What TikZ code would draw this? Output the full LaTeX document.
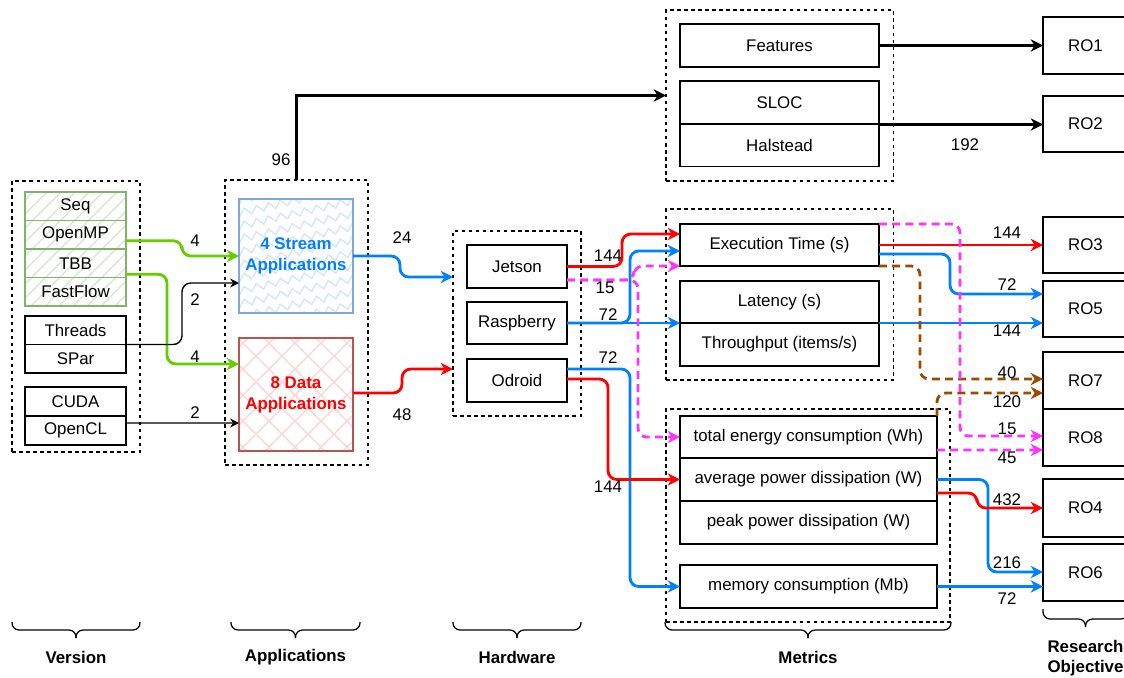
\documentclass[tikz,border=0pt]{standalone}
\usepackage{fontspec}
\setmainfont{Liberation Sans}
\usetikzlibrary{arrows.meta,calc,decorations.pathmorphing}

\definecolor{cblue}{HTML}{007FFF}
\definecolor{cred}{HTML}{FF0000}
\definecolor{cgreen}{HTML}{66CC00}
\definecolor{cmag}{HTML}{FF33FF}
\definecolor{cbrown}{HTML}{994C00}
\definecolor{gstroke}{HTML}{82B366}
\definecolor{ghatch}{HTML}{D5E8D4}
\definecolor{bstroke}{HTML}{7EA6E0}
\definecolor{bhatch}{HTML}{D6E5F8}
\definecolor{rstroke}{HTML}{B85450}
\definecolor{rhatch}{HTML}{F8D7D7}

\tikzset{
  sz/.style 2 args={minimum width=#1*0.02cm, minimum height=#2*0.02cm},
  box/.style={draw, line width=0.8pt, inner sep=0pt, outer sep=0pt},
  grp/.style={draw, dash pattern=on 2pt off 2pt, line width=0.6pt, inner sep=0pt, outer sep=0pt},
  bold/.style={font=\bfseries\fontsize{9.6}{12}\selectfont, align=center},
  lbl/.style={inner sep=1pt},
  cat/.style={font=\bfseries\fontsize{9.6}{11.3}\selectfont, align=center},
  wire/.style={line width=1.6pt, rounded corners=5pt, -{Stealth[length=7pt,width=7pt,inset=2.2pt]}},
  thinwire/.style={line width=0.8pt, rounded corners=5pt, -{Stealth[length=5pt,width=5pt,inset=1.6pt]}},
  dsh/.style={dash pattern=on 4.5pt off 3pt},
  brc/.style={line width=0.7pt, rounded corners=4pt},
}

\begin{document}
\begin{tikzpicture}[x=0.02cm,y=-0.02cm, every node/.style={font=\fontsize{9.6}{11.5}\selectfont}]
\useasboundingbox (0,0) rectangle (1124,677);

% group frames
\node[grp, sz={128}{271}] (verc) at (76,316.5) {};
\node[grp, sz={143}{285}] (appc) at (296.5,322.5) {};
\node[grp, sz={128}{185}] (hwc) at (517,323.5) {};
\node[grp, sz={227.5}{171}] (codec) at (779.75,95.5) {};
\node[grp, sz={227.5}{171}] (perfc) at (779.75,294.5) {};
\node[grp, sz={284}{213}] (enc) at (808,515.5) {};

% fill textures
\begin{scope}
  \clip (25,192) rectangle (126,306);
  \foreach \k in {0,...,16}
    \draw[ghatch, line width=0.8pt] (-95+\k*14,306) -- ++(120,-120);
\end{scope}
\begin{scope}
  \clip (239,199) rectangle (353,313);
  \foreach \k in {-3,...,10}
    \draw[bhatch, line width=0.8pt, decorate, decoration={zigzag,segment length=7pt,amplitude=2pt}]
      (230,215+\k*13) -- (365,185+\k*13);
\end{scope}
\begin{scope}
  \clip (239,338) rectangle (353,451);
  \foreach \k in {0,...,10} {
    \draw[rhatch, line width=0.8pt] (100+\k*26,460) -- ++(130,-130);
    \draw[rhatch, line width=0.8pt] (100+\k*26,330) -- ++(130,130);
  }
\end{scope}

% versions
\node[box, draw=gstroke, sz={101}{28.5}] (seq) at (75.5,206.25) {Seq};
\node[box, draw=gstroke, sz={101}{28.5}] (omp) at (75.5,234.75) {OpenMP};
\node[box, draw=gstroke, sz={101}{28.5}] (tbb) at (75.5,263.25) {TBB};
\node[box, draw=gstroke, sz={101}{28.5}] (ff) at (75.5,291.75) {FastFlow};
\node[box, sz={101}{28.5}] (threads) at (75.5,330.25) {Threads};
\node[box, sz={101}{28.5}] (spar) at (75.5,358.75) {SPar};
\node[box, sz={101}{29}] (cuda) at (75.5,401.5) {CUDA};
\node[box, sz={101}{29}] (opencl) at (75.5,430.5) {OpenCL};

% applications
\node[box, draw=bstroke, sz={114}{114}, bold, text=cblue] (stream) at (296,256) {4 Stream\\Applications};
\node[box, draw=rstroke, sz={114}{113}, bold, text=cred] (data) at (296,394.5) {8 Data\\Applications};

% hardware
\node[box, sz={100}{43}] (jetson) at (517,266.5) {Jetson};
\node[box, sz={100}{42}] (rasp) at (517,323) {Raspberry};
\node[box, sz={100}{43}] (odroid) at (517,380.5) {Odroid};

% metrics
\node[box, sz={199}{43}] (features) at (779.5,45.5) {Features};
\node[box, sz={199}{43}] (sloc) at (779.5,102.5) {SLOC};
\node[box, sz={199}{42.5}] (halstead) at (779.5,145.25) {Halstead};
\node[box, sz={199}{42}] (exec) at (779.5,245) {Execution Time (s)};
\node[box, sz={199}{42}] (lat) at (779.5,302) {Latency (s)};
\node[box, sz={199}{43}] (thr) at (779.5,344.5) {Throughput (items/s)};
\node[box, sz={257}{42}] (energy) at (808.5,437) {total energy consumption (Wh)};
\node[box, sz={257}{43}] (avgp) at (808.5,479.5) {average power dissipation (W)};
\node[box, sz={257}{43}] (peakp) at (808.5,522.5) {peak power dissipation (W)};
\node[box, sz={257}{43}] (mem) at (808.5,586.5) {memory consumption (Mb)};

% research objectives
\node[box, sz={85}{57}] (ro1) at (1085.5,45.5) {RO1};
\node[box, sz={85}{56}] (ro2) at (1085.5,124) {RO2};
\node[box, sz={85}{56}] (ro3) at (1085.5,245) {RO3};
\node[box, sz={85}{56}] (ro5) at (1085.5,309) {RO5};
\node[box, sz={85}{57}] (ro7) at (1085.5,380.5) {RO7};
\node[box, sz={85}{57}] (ro8) at (1085.5,437.5) {RO8};
\node[box, sz={85}{58}] (ro4) at (1085.5,508) {RO4};
\node[box, sz={85}{57}] (ro6) at (1085.5,572.5) {RO6};

% versions -> applications
\draw[wire, cgreen] ($(omp.east)+(0,6)$) -- ++(56,0) |- (stream.west);
\node[lbl] (n1) at (195,241) {4};
\draw[wire, cgreen] ($(tbb.east)+(0,11)$) -- ++(41,0) |- ($(data.west)+(0,-30.5)$);
\node[lbl] (n2) at (195,357) {4};
\draw[thinwire] (spar.north east) -- ++(56,0) |- ($(stream.west)+(0,27)$);
\node[lbl] (n3) at (195,300) {2};
\draw[thinwire] ($(opencl.east)+(0,-7.5)$) -- ($(data.west)+(0,28.5)$);
\node[lbl] (n4) at (195,413) {2};

% applications -> hardware / code metrics
\draw[wire, cblue] (stream.east) -- ++(47,0) |- ($(hwc.west)+(0,-46.5)$);
\node[lbl] (n5) at (402,238) {24};
\draw[wire, cred] ($(data.east)+(0,-1.5)$) -- ++(49,0) |- ($(hwc.west)+(0,45.5)$);
\node[lbl] (n6) at (402,415) {48};
\draw[wire, sharp corners] (appc.north) |- (codec.west);
\node[lbl] (n7) at (281,160) {96};
\draw[wire] (features.east) -- (ro1.west);
\draw[wire] ($(sloc.south east)+(0,0.5)$) -- ($(ro2.west)+(0,0.5)$);
\node[lbl] (n8) at (965,145) {192};

% hardware -> metrics
\draw[wire, cred] (jetson.east) -- ++(55,0) |- ($(exec.west)+(0,-11)$);
\node[lbl] (n9) at (608,256) {144};
\draw[wire, cblue] (rasp.east) -- (lat.south west);
\draw[wire, cblue] (rasp.east) -- ++(63,0) |- ($(exec.west)+(0,6)$);
\node[lbl] (n10) at (608,315) {72};
\draw[wire, cmag, dsh] ($(jetson.east)+(0,13.5)$) -- ++(67,0) |- (exec.south west);
\draw[wire, cmag, dsh] ($(jetson.east)+(0,13.5)$) -- ++(71,0) |- (energy.west);
\node[lbl] (n11) at (605,288) {15};
\draw[wire, cblue] ($(odroid.east)+(0,-11.5)$) -- ++(63,0) |- (mem.west);
\node[lbl] (n12) at (608,358) {72};
\draw[wire, cred] ($(odroid.east)+(0,-1.5)$) -- ++(41,0) |- (avgp.west);
\node[lbl] (n13) at (608,487) {144};

% metrics -> research objectives
\draw[wire, cred] (exec.east) -- (ro3.west);
\node[lbl] (n14) at (1007,233) {144};
\draw[wire, cblue] ($(exec.east)+(0,9)$) -- ++(71,0) |- ($(ro5.west)+(0,-15)$);
\node[lbl] (n15) at (1007,285) {72};
\draw[wire, cblue] (lat.south east) -- (lat.south east -| ro5.west);
\node[lbl] (n16) at (1007,331) {144};
\draw[wire, cbrown, dsh] (exec.south east) -- ++(41,0) |- ($(ro7.west)+(0,-1.5)$);
\node[lbl] (n17) at (1007,373) {40};
\draw[wire, cbrown, dsh] (energy.north east) |- ($(ro7.west)+(0,12.5)$);
\node[lbl] (n18) at (1007,402) {120};
\draw[wire, cmag, dsh] (exec.north east) -- ++(81,0) |- ($(ro8.west)+(0,-1.5)$);
\node[lbl] (n19) at (1007,429) {15};
\draw[wire, cmag, dsh] ($(energy.east)+(0,13)$) -- ($(ro8.west)+(0,12.5)$);
\node[lbl] (n20) at (1007,458) {45};
\draw[wire, cblue] (avgp.east) -- ++(51,0) |- ($(ro6.west)+(0,-0.5)$);
\node[lbl] (n21) at (1007,563) {216};
\draw[wire, cred] ($(avgp.east)+(0,13.5)$) -- ++(40,0) |- (ro4.west);
\node[lbl] (n22) at (1007,500) {432};
\draw[wire, cblue] (mem.east) -- ($(ro6.west)+(0,14)$);
\node[lbl] (n23) at (1007,599) {72};

% category braces
\draw[brc] (12,622) -- (12,630) -- (76,630) -- (76,638);
\draw[brc] (140,622) -- (140,630) -- (76,630) -- (76,638);
\draw[brc] (231,622) -- (231,630) -- (295.5,630) -- (295.5,638);
\draw[brc] (360,622) -- (360,630) -- (295.5,630) -- (295.5,638);
\draw[brc] (453,622) -- (453,630) -- (517,630) -- (517,638);
\draw[brc] (581,622) -- (581,630) -- (517,630) -- (517,638);
\draw[brc] (665,622) -- (665,630) -- (808,630) -- (808,638);
\draw[brc] (951,622) -- (951,630) -- (808,630) -- (808,638);
\draw[brc] (1043,609) -- (1043,619) -- (1085.5,619) -- (1085.5,627);
\draw[brc] (1128,609) -- (1128,619) -- (1085.5,619) -- (1085.5,627);

\node[cat] (cver) at (76,657) {Version};
\node[cat] (capp) at (295.5,657) {Applications};
\node[cat] (chw) at (517,657) {Hardware};
\node[cat] (cmet) at (808,657) {Metrics};
\node[cat] (cro) at (1085.5,658) {Research\\Objective};
\end{tikzpicture}
\end{document}
